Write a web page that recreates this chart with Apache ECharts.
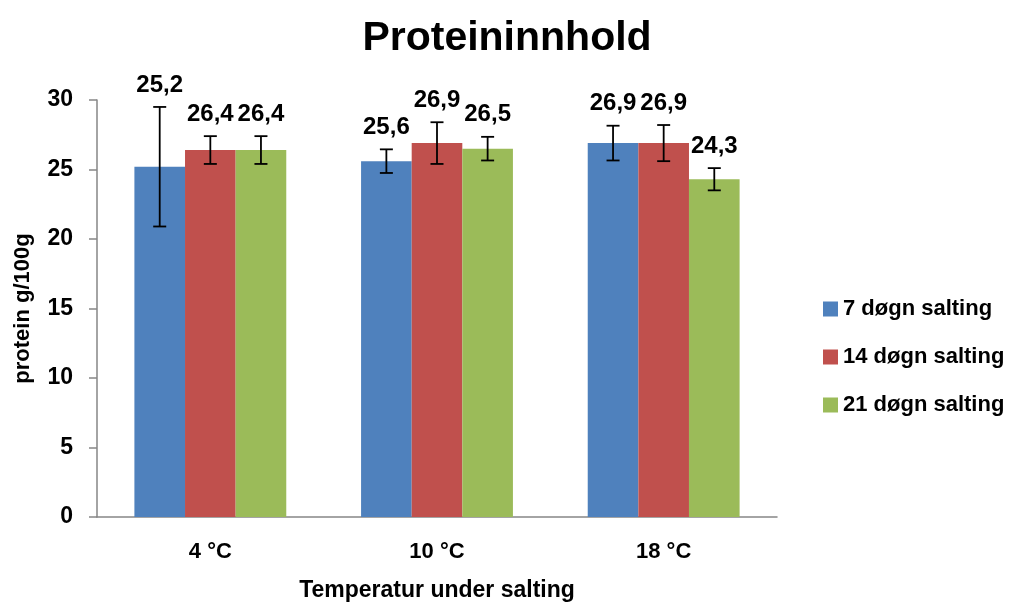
<!DOCTYPE html>
<html>
<head>
<meta charset="utf-8">
<script src="https://cdn.jsdelivr.net/npm/echarts@6/dist/echarts.min.js"></script>
<style>html,body{margin:0;padding:0;background:#fff;}#c{width:1012px;height:605px;}</style>
</head>
<body>
<div id="c"></div>
<script>
const categories = ['4 °C', '10 °C', '18 °C'];
const seriesNames = ['7 døgn salting', '14 døgn salting', '21 døgn salting'];
const values7 = [25.2, 25.6, 26.9];
const values14 = [26.4, 26.9, 26.9];
const values21 = [26.4, 26.5, 24.3];
const err7 = [4.3, 0.85, 1.25];
const err14 = [1.0, 1.5, 1.3];
const err21 = [1.0, 0.85, 0.8];
const yTicks = [0, 5, 10, 15, 20, 25, 30];

const colors = ['#4F81BD', '#C0504D', '#9BBB59'];
const FONT = '"Liberation Sans", Arial, sans-serif';
const GAP = 0.33;
const allValues = [values7, values14, values21];
const allErr = [err7, err14, err21];

const chart = echarts.init(document.getElementById('c'));

function errorSeries(k) {
  return {
    type: 'custom',
    name: seriesNames[k] + ' err',
    z: 10,
    silent: true,
    data: categories.map((c, i) => [i, allValues[k][i], allErr[k][i]]),
    renderItem: function (params, api) {
      const i = api.value(0), v = api.value(1), e = api.value(2);
      const band = api.size([1, 0])[0];
      const bw = band * (1 - GAP) / 3;
      const base = api.coord([i, v]);
      const x = base[0] + (k - 1) * bw;
      const top = api.coord([i, v + e])[1];
      const bot = api.coord([i, v - e])[1];
      const cap = 6.5;
      const st = { stroke: '#000', lineWidth: 1.8 };
      return {
        type: 'group',
        children: [
          { type: 'line', shape: { x1: x, y1: top, x2: x, y2: bot }, style: st },
          { type: 'line', shape: { x1: x - cap, y1: top, x2: x + cap, y2: top }, style: st },
          { type: 'line', shape: { x1: x - cap, y1: bot, x2: x + cap, y2: bot }, style: st },
          { type: 'text', x: x, y: top - 10, style: {
              text: String(v.toFixed(1)).replace('.', ','),
              font: 'bold 24px ' + FONT, fill: '#000',
              align: 'center', verticalAlign: 'bottom' } }
        ]
      };
    }
  };
}

const barSeries = seriesNames.map((n, k) => ({
  type: 'bar',
  name: n,
  data: allValues[k],
  barGap: '0%',
  barCategoryGap: (GAP * 100) + '%',
  itemStyle: { color: colors[k] }
}));

chart.setOption({
  animation: false,
  backgroundColor: '#fff',
  title: {
    text: 'Proteininnhold',
    left: 502, top: 13, textAlign: 'center',
    textStyle: { fontFamily: FONT, fontWeight: 'bold', fontSize: 41, color: '#000' }
  },
  legend: {
    orient: 'vertical',
    left: 818, top: 293,
    itemWidth: 15, itemHeight: 15, itemGap: 26,
    icon: 'rect',
    data: seriesNames,
    textStyle: { fontFamily: FONT, fontWeight: 'bold', fontSize: 22, color: '#000' }
  },
  grid: { left: 97, right: 235, top: 100, bottom: 88, containLabel: false, outerBoundsMode: 'none' },
  xAxis: {
    type: 'category',
    data: categories,
    name: 'Temperatur under salting',
    nameLocation: 'middle',
    nameGap: 62,
    nameTextStyle: { fontFamily: FONT, fontWeight: 'bold', fontSize: 23, color: '#000' },
    axisLine: { lineStyle: { color: '#868686', width: 1.5 } },
    axisTick: { show: false },
    axisLabel: { fontFamily: FONT, fontWeight: 'bold', fontSize: 22, color: '#000', margin: 24 }
  },
  yAxis: {
    type: 'value',
    min: yTicks[0], max: yTicks[yTicks.length - 1], interval: 5,
    name: 'protein g/100g',
    nameLocation: 'middle',
    nameGap: 63,
    nameTextStyle: { fontFamily: FONT, fontWeight: 'bold', fontSize: 22, color: '#000' },
    axisLine: { show: true, lineStyle: { color: '#868686', width: 1.5 } },
    axisTick: { show: true, length: 8, lineStyle: { color: '#868686', width: 1.5 } },
    splitLine: { show: false },
    axisLabel: { fontFamily: FONT, fontWeight: 'bold', fontSize: 23, color: '#000', margin: 24 }
  },
  series: barSeries.concat([0, 1, 2].map(errorSeries))
});
</script>
</body>
</html>
